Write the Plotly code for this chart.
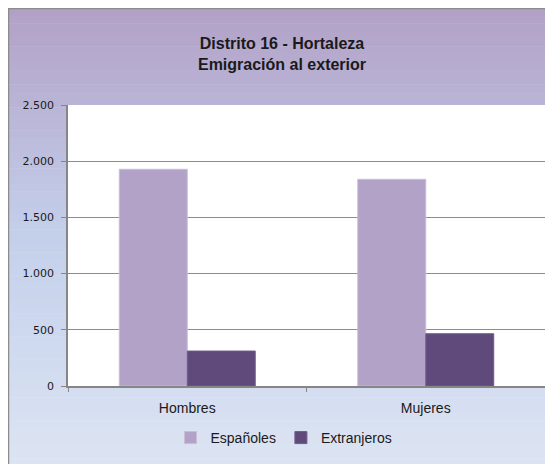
import plotly.graph_objects as go

# data
categorias = ["Hombres", "Mujeres"]
espanoles = [1928, 1839]
extranjeros = [311, 465]
y_ticks = [0, 500, 1000, 1500, 2000, 2500]

# the page puts the figure 8px in from the top-left corner, so sizes are 8px smaller
W, H = 545, 456
L, R, T, B = 60, 8, 97, 78
pw, ph = W - L - R, H - T - B


def px2x(px):
    return (px - L) / pw


def px2y(py):
    return (H - B - py) / ph


fig = go.Figure()
fig.add_trace(go.Bar(x=categorias, y=espanoles, name="Españoles",
                     marker=dict(color="#b3a2c7", line=dict(color="#c9bdd8", width=1))))
fig.add_trace(go.Bar(x=categorias, y=extranjeros, name="Extranjeros",
                     marker=dict(color="#604a7b", line=dict(color="#6f5a8a", width=1))))

# background gradient of the chart area (purple at top -> light blue at bottom)
def mix(c1, c2, t):
    return "rgb(%d,%d,%d)" % tuple(round(a + (b - a) * t) for a, b in zip(c1, c2))


top, mid, bot = (178, 161, 199), (196, 208, 235), (220, 228, 243)
y0, y1 = 0, H + 2
n = 60
shapes = []
for i in range(n):
    t = i / (n - 1)
    col = mix(top, mid, t / 0.5) if t < 0.5 else mix(mid, bot, (t - 0.5) / 0.5)
    ya = y0 + (y1 - y0) * i / n
    yb = y0 + (y1 - y0) * (i + 1) / n + 0.5
    shapes.append(dict(type="rect", xref="paper", yref="paper", layer="below",
                       x0=px2x(0), x1=px2x(W + 2), y0=px2y(yb), y1=px2y(ya),
                       fillcolor=col, line=dict(width=0)))
# white plot area
shapes.append(dict(type="rect", xref="paper", yref="paper", layer="below",
                   x0=0, x1=1, y0=0, y1=1, fillcolor="white", line=dict(width=0)))
# frame lines (top and left)
shapes.append(dict(type="line", xref="paper", yref="paper", layer="below",
                   x0=px2x(0), x1=px2x(W + 2), y0=px2y(0.5), y1=px2y(0.5),
                   line=dict(color="#8c8c8c", width=1.5)))
shapes.append(dict(type="line", xref="paper", yref="paper", layer="below",
                   x0=px2x(0.5), x1=px2x(0.5), y0=px2y(0), y1=px2y(H + 2),
                   line=dict(color="#8c8c8c", width=1.5)))

fig.update_layout(
    width=W, height=H,
    margin=dict(l=L, r=R, t=T, b=B, autoexpand=False),
    paper_bgcolor="white",
    plot_bgcolor="white",
    separators=",.",
    barmode="group",
    bargap=0.43,
    bargroupgap=0,
    shapes=shapes,
    font=dict(family="Liberation Sans, Arial, sans-serif", color="#1a1a1a"),
    title=dict(text="<b>Distrito 16 - Hortaleza<br>Emigración al exterior</b>",
               x=274 / W, xanchor="center", y=1 - 41 / H, yanchor="middle",
               font=dict(size=16, color="#1a1a1a")),
    legend=dict(orientation="h", x=px2x(276), xanchor="center",
                y=px2y(430), yanchor="middle",
                bgcolor="rgba(0,0,0,0)", font=dict(size=14),
                itemwidth=30, tracegroupgap=0),
    showlegend=True,
)
fig.update_yaxes(range=[0, 2500], tickvals=y_ticks, tickformat=",d",
                 showgrid=True, gridcolor="#8c8c8c", gridwidth=1,
                 showline=True, linecolor="#868686", linewidth=1.5,
                 ticks="outside", ticklen=5, tickcolor="#868686",
                 ticklabelstandoff=5,
                 tickfont=dict(family="DejaVu Sans, Verdana, sans-serif", size=11, color="#1a1a1a"),
                 zeroline=False)
fig.update_xaxes(showline=True, linecolor="#868686", linewidth=2,
                 ticks="outside", tickson="boundaries", ticklen=4, tickcolor="#868686",
                 ticklabelstandoff=8,
                 tickfont=dict(size=14, color="#1a1a1a"))

fig.write_html("out.html")
